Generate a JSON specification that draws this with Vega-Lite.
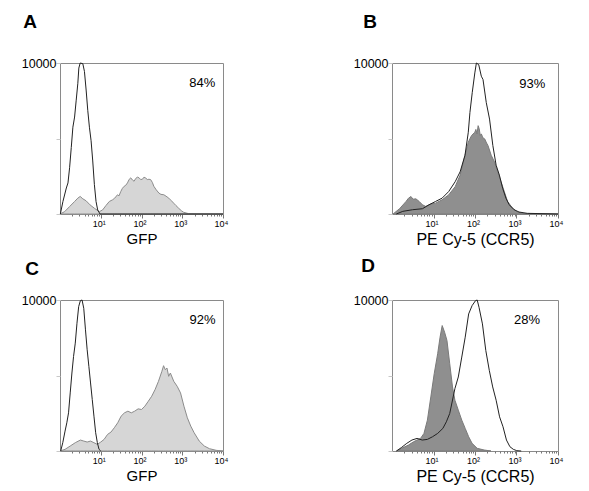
{
  "$schema": "https://vega.github.io/schema/vega-lite/v6.json",
  "padding": {"left": 20, "top": 12, "right": 5, "bottom": 5},
  "background": "white",
  "datasets": {
    "hist": [
      {"panel":"A","series":"filled","intensity":1,"count":0},
      {"panel":"A","series":"filled","intensity":1.3,"count":157},
      {"panel":"A","series":"filled","intensity":1.72,"count":492},
      {"panel":"A","series":"filled","intensity":2.28,"count":828},
      {"panel":"A","series":"filled","intensity":2.74,"count":1051},
      {"panel":"A","series":"filled","intensity":3.13,"count":1163},
      {"panel":"A","series":"filled","intensity":3.63,"count":1007},
      {"panel":"A","series":"filled","intensity":4.38,"count":872},
      {"panel":"A","series":"filled","intensity":5.47,"count":604},
      {"panel":"A","series":"filled","intensity":6.98,"count":380},
      {"panel":"A","series":"filled","intensity":9.23,"count":157},
      {"panel":"A","series":"filled","intensity":11.1,"count":268},
      {"panel":"A","series":"filled","intensity":13.4,"count":559},
      {"panel":"A","series":"filled","intensity":16.2,"count":828},
      {"panel":"A","series":"filled","intensity":19.5,"count":940},
      {"panel":"A","series":"filled","intensity":22,"count":1050},
      {"panel":"A","series":"filled","intensity":25.8,"count":1275},
      {"panel":"A","series":"filled","intensity":28,"count":1200},
      {"panel":"A","series":"filled","intensity":31.1,"count":1499},
      {"panel":"A","series":"filled","intensity":34,"count":1700},
      {"panel":"A","series":"filled","intensity":37.5,"count":1834},
      {"panel":"A","series":"filled","intensity":41,"count":1900},
      {"panel":"A","series":"filled","intensity":45.2,"count":2058},
      {"panel":"A","series":"filled","intensity":50,"count":2300},
      {"panel":"A","series":"filled","intensity":54.5,"count":2394},
      {"panel":"A","series":"filled","intensity":60,"count":2250},
      {"panel":"A","series":"filled","intensity":65.7,"count":2170},
      {"panel":"A","series":"filled","intensity":72,"count":2350},
      {"panel":"A","series":"filled","intensity":79.2,"count":2438},
      {"panel":"A","series":"filled","intensity":87,"count":2400},
      {"panel":"A","series":"filled","intensity":95.4,"count":2282},
      {"panel":"A","series":"filled","intensity":105,"count":2300},
      {"panel":"A","series":"filled","intensity":115,"count":2438},
      {"panel":"A","series":"filled","intensity":127,"count":2380},
      {"panel":"A","series":"filled","intensity":139,"count":2282},
      {"panel":"A","series":"filled","intensity":152,"count":2300},
      {"panel":"A","series":"filled","intensity":167,"count":2282},
      {"panel":"A","series":"filled","intensity":184,"count":2100},
      {"panel":"A","series":"filled","intensity":201,"count":1834},
      {"panel":"A","series":"filled","intensity":230,"count":1600},
      {"panel":"A","series":"filled","intensity":267,"count":1387},
      {"panel":"A","series":"filled","intensity":300,"count":1300},
      {"panel":"A","series":"filled","intensity":353,"count":1275},
      {"panel":"A","series":"filled","intensity":400,"count":1180},
      {"panel":"A","series":"filled","intensity":467,"count":1051},
      {"panel":"A","series":"filled","intensity":540,"count":880},
      {"panel":"A","series":"filled","intensity":618,"count":716},
      {"panel":"A","series":"filled","intensity":700,"count":560},
      {"panel":"A","series":"filled","intensity":818,"count":380},
      {"panel":"A","series":"filled","intensity":950,"count":220},
      {"panel":"A","series":"filled","intensity":1083,"count":112},
      {"panel":"A","series":"filled","intensity":1433,"count":22},
      {"panel":"A","series":"filled","intensity":10000,"count":0},

      {"panel":"A","series":"open","intensity":1.02,"count":0},
      {"panel":"A","series":"open","intensity":1.18,"count":828},
      {"panel":"A","series":"open","intensity":1.43,"count":1722},
      {"panel":"A","series":"open","intensity":1.57,"count":2058},
      {"panel":"A","series":"open","intensity":1.72,"count":3065},
      {"panel":"A","series":"open","intensity":1.89,"count":4407},
      {"panel":"A","series":"open","intensity":2.07,"count":5749},
      {"panel":"A","series":"open","intensity":2.28,"count":6420},
      {"panel":"A","series":"open","intensity":2.5,"count":7539},
      {"panel":"A","series":"open","intensity":2.74,"count":8657},
      {"panel":"A","series":"open","intensity":2.9,"count":9664},
      {"panel":"A","series":"open","intensity":3.13,"count":10000},
      {"panel":"A","series":"open","intensity":3.63,"count":9955},
      {"panel":"A","series":"open","intensity":3.98,"count":9440},
      {"panel":"A","series":"open","intensity":4.38,"count":8210},
      {"panel":"A","series":"open","intensity":4.8,"count":6868},
      {"panel":"A","series":"open","intensity":5.27,"count":5749},
      {"panel":"A","series":"open","intensity":5.79,"count":4854},
      {"panel":"A","series":"open","intensity":6.36,"count":3512},
      {"panel":"A","series":"open","intensity":6.98,"count":1946},
      {"panel":"A","series":"open","intensity":7.66,"count":828},
      {"panel":"A","series":"open","intensity":8.41,"count":268},
      {"panel":"A","series":"open","intensity":9.6,"count":0},
      {"panel":"A","series":"open","intensity":10000,"count":0},

      {"panel":"B","series":"filled","intensity":1.06,"count":0},
      {"panel":"B","series":"filled","intensity":1.52,"count":349},
      {"panel":"B","series":"filled","intensity":2.18,"count":830},
      {"panel":"B","series":"filled","intensity":2.5,"count":1050},
      {"panel":"B","series":"filled","intensity":2.87,"count":1157},
      {"panel":"B","series":"filled","intensity":3.2,"count":980},
      {"panel":"B","series":"filled","intensity":3.77,"count":1004},
      {"panel":"B","series":"filled","intensity":4.52,"count":830},
      {"panel":"B","series":"filled","intensity":5.42,"count":611},
      {"panel":"B","series":"filled","intensity":6.5,"count":502},
      {"panel":"B","series":"filled","intensity":8.53,"count":655},
      {"panel":"B","series":"filled","intensity":11.2,"count":720},
      {"panel":"B","series":"filled","intensity":16.1,"count":939},
      {"panel":"B","series":"filled","intensity":23.2,"count":1266},
      {"panel":"B","series":"filled","intensity":33.3,"count":1812},
      {"panel":"B","series":"filled","intensity":43.8,"count":2576},
      {"panel":"B","series":"filled","intensity":57.4,"count":3886},
      {"panel":"B","series":"filled","intensity":68.9,"count":4759},
      {"panel":"B","series":"filled","intensity":82.6,"count":5196},
      {"panel":"B","series":"filled","intensity":99,"count":5414},
      {"panel":"B","series":"filled","intensity":105,"count":5600},
      {"panel":"B","series":"filled","intensity":112,"count":5300},
      {"panel":"B","series":"filled","intensity":119,"count":5850},
      {"panel":"B","series":"filled","intensity":126,"count":5650},
      {"panel":"B","series":"filled","intensity":134,"count":5200},
      {"panel":"B","series":"filled","intensity":142,"count":5305},
      {"panel":"B","series":"filled","intensity":150,"count":5150},
      {"panel":"B","series":"filled","intensity":160,"count":5000},
      {"panel":"B","series":"filled","intensity":171,"count":4977},
      {"panel":"B","series":"filled","intensity":190,"count":4700},
      {"panel":"B","series":"filled","intensity":205,"count":4541},
      {"panel":"B","series":"filled","intensity":246,"count":3886},
      {"panel":"B","series":"filled","intensity":295,"count":3449},
      {"panel":"B","series":"filled","intensity":353,"count":2794},
      {"panel":"B","series":"filled","intensity":424,"count":2139},
      {"panel":"B","series":"filled","intensity":508,"count":1484},
      {"panel":"B","series":"filled","intensity":609,"count":830},
      {"panel":"B","series":"filled","intensity":797,"count":393},
      {"panel":"B","series":"filled","intensity":1050,"count":131},
      {"panel":"B","series":"filled","intensity":1510,"count":22},
      {"panel":"B","series":"filled","intensity":10000,"count":0},

      {"panel":"B","series":"open","intensity":1.27,"count":0},
      {"panel":"B","series":"open","intensity":1.82,"count":175},
      {"panel":"B","series":"open","intensity":3.14,"count":284},
      {"panel":"B","series":"open","intensity":5.42,"count":349},
      {"panel":"B","series":"open","intensity":7.8,"count":611},
      {"panel":"B","series":"open","intensity":11.2,"count":830},
      {"panel":"B","series":"open","intensity":16.1,"count":1048},
      {"panel":"B","series":"open","intensity":23.2,"count":1484},
      {"panel":"B","series":"open","intensity":33.3,"count":2139},
      {"panel":"B","series":"open","intensity":43.8,"count":2794},
      {"panel":"B","series":"open","intensity":57.4,"count":3886},
      {"panel":"B","series":"open","intensity":68.9,"count":5414},
      {"panel":"B","series":"open","intensity":75.5,"count":6724},
      {"panel":"B","series":"open","intensity":85.7,"count":8033},
      {"panel":"B","series":"open","intensity":99,"count":9343},
      {"panel":"B","series":"open","intensity":108,"count":10000},
      {"panel":"B","series":"open","intensity":123,"count":9889},
      {"panel":"B","series":"open","intensity":142,"count":9125},
      {"panel":"B","series":"open","intensity":156,"count":8907},
      {"panel":"B","series":"open","intensity":187,"count":7379},
      {"panel":"B","series":"open","intensity":224,"count":6287},
      {"panel":"B","series":"open","intensity":269,"count":4541},
      {"panel":"B","series":"open","intensity":323,"count":3231},
      {"panel":"B","series":"open","intensity":387,"count":2576},
      {"panel":"B","series":"open","intensity":464,"count":1703},
      {"panel":"B","series":"open","intensity":557,"count":1048},
      {"panel":"B","series":"open","intensity":667,"count":611},
      {"panel":"B","series":"open","intensity":877,"count":284},
      {"panel":"B","series":"open","intensity":1150,"count":131},
      {"panel":"B","series":"open","intensity":1820,"count":44},
      {"panel":"B","series":"open","intensity":10000,"count":0},

      {"panel":"C","series":"filled","intensity":1,"count":0},
      {"panel":"C","series":"filled","intensity":1.33,"count":110},
      {"panel":"C","series":"filled","intensity":1.78,"count":330},
      {"panel":"C","series":"filled","intensity":2.37,"count":550},
      {"panel":"C","series":"filled","intensity":3.16,"count":725},
      {"panel":"C","series":"filled","intensity":3.83,"count":659},
      {"panel":"C","series":"filled","intensity":4.64,"count":593},
      {"panel":"C","series":"filled","intensity":5.62,"count":659},
      {"panel":"C","series":"filled","intensity":6.81,"count":550},
      {"panel":"C","series":"filled","intensity":8.25,"count":440},
      {"panel":"C","series":"filled","intensity":10,"count":593},
      {"panel":"C","series":"filled","intensity":12.1,"count":769},
      {"panel":"C","series":"filled","intensity":14.7,"count":1099},
      {"panel":"C","series":"filled","intensity":17.8,"count":1253},
      {"panel":"C","series":"filled","intensity":21.5,"count":1539},
      {"panel":"C","series":"filled","intensity":26.1,"count":1868},
      {"panel":"C","series":"filled","intensity":31.6,"count":2308},
      {"panel":"C","series":"filled","intensity":38.3,"count":2528},
      {"panel":"C","series":"filled","intensity":46.4,"count":2638},
      {"panel":"C","series":"filled","intensity":56.2,"count":2528},
      {"panel":"C","series":"filled","intensity":68.1,"count":2638},
      {"panel":"C","series":"filled","intensity":82.5,"count":2791},
      {"panel":"C","series":"filled","intensity":100,"count":2748},
      {"panel":"C","series":"filled","intensity":121,"count":2967},
      {"panel":"C","series":"filled","intensity":147,"count":3297},
      {"panel":"C","series":"filled","intensity":178,"count":3627},
      {"panel":"C","series":"filled","intensity":215,"count":4066},
      {"panel":"C","series":"filled","intensity":261,"count":4616},
      {"panel":"C","series":"filled","intensity":316,"count":5275},
      {"panel":"C","series":"filled","intensity":348,"count":5649},
      {"panel":"C","series":"filled","intensity":383,"count":5385},
      {"panel":"C","series":"filled","intensity":422,"count":5495},
      {"panel":"C","series":"filled","intensity":464,"count":4946},
      {"panel":"C","series":"filled","intensity":511,"count":5165},
      {"panel":"C","series":"filled","intensity":619,"count":4616},
      {"panel":"C","series":"filled","intensity":750,"count":4286},
      {"panel":"C","series":"filled","intensity":908,"count":3847},
      {"panel":"C","series":"filled","intensity":1101,"count":2967},
      {"panel":"C","series":"filled","intensity":1334,"count":2198},
      {"panel":"C","series":"filled","intensity":1616,"count":1649},
      {"panel":"C","series":"filled","intensity":1957,"count":1209},
      {"panel":"C","series":"filled","intensity":2610,"count":659},
      {"panel":"C","series":"filled","intensity":3481,"count":330},
      {"panel":"C","series":"filled","intensity":4642,"count":154},
      {"panel":"C","series":"filled","intensity":6813,"count":44},
      {"panel":"C","series":"filled","intensity":10000,"count":0},

      {"panel":"C","series":"open","intensity":1.04,"count":0},
      {"panel":"C","series":"open","intensity":1.17,"count":550},
      {"panel":"C","series":"open","intensity":1.33,"count":1319},
      {"panel":"C","series":"open","intensity":1.47,"count":1868},
      {"panel":"C","series":"open","intensity":1.62,"count":2528},
      {"panel":"C","series":"open","intensity":1.78,"count":3847},
      {"panel":"C","series":"open","intensity":1.96,"count":5165},
      {"panel":"C","series":"open","intensity":2.15,"count":6264},
      {"panel":"C","series":"open","intensity":2.37,"count":7144},
      {"panel":"C","series":"open","intensity":2.61,"count":8462},
      {"panel":"C","series":"open","intensity":2.87,"count":9561},
      {"panel":"C","series":"open","intensity":3.16,"count":9956},
      {"panel":"C","series":"open","intensity":3.48,"count":10000},
      {"panel":"C","series":"open","intensity":3.83,"count":9451},
      {"panel":"C","series":"open","intensity":4.22,"count":8023},
      {"panel":"C","series":"open","intensity":4.64,"count":6704},
      {"panel":"C","series":"open","intensity":5.11,"count":5605},
      {"panel":"C","series":"open","intensity":5.62,"count":4506},
      {"panel":"C","series":"open","intensity":6.19,"count":3407},
      {"panel":"C","series":"open","intensity":6.81,"count":2308},
      {"panel":"C","series":"open","intensity":7.5,"count":1209},
      {"panel":"C","series":"open","intensity":8.25,"count":550},
      {"panel":"C","series":"open","intensity":9.08,"count":110},
      {"panel":"C","series":"open","intensity":10,"count":0},

      {"panel":"D","series":"filled","intensity":1.28,"count":0},
      {"panel":"D","series":"filled","intensity":1.71,"count":176},
      {"panel":"D","series":"filled","intensity":2.5,"count":396},
      {"panel":"D","series":"filled","intensity":3.32,"count":615},
      {"panel":"D","series":"filled","intensity":4.02,"count":725},
      {"panel":"D","series":"filled","intensity":4.87,"count":835},
      {"panel":"D","series":"filled","intensity":5.89,"count":1165},
      {"panel":"D","series":"filled","intensity":7.13,"count":2044},
      {"panel":"D","series":"filled","intensity":8.62,"count":3583},
      {"panel":"D","series":"filled","intensity":10.4,"count":5121},
      {"panel":"D","series":"filled","intensity":12.6,"count":6440},
      {"panel":"D","series":"filled","intensity":14.4,"count":7539},
      {"panel":"D","series":"filled","intensity":16.2,"count":8308},
      {"panel":"D","series":"filled","intensity":18.5,"count":7869},
      {"panel":"D","series":"filled","intensity":21.1,"count":7319},
      {"panel":"D","series":"filled","intensity":24.6,"count":5781},
      {"panel":"D","series":"filled","intensity":28.7,"count":4242},
      {"panel":"D","series":"filled","intensity":32.8,"count":3363},
      {"panel":"D","series":"filled","intensity":39.6,"count":2704},
      {"panel":"D","series":"filled","intensity":48,"count":2044},
      {"panel":"D","series":"filled","intensity":58.1,"count":1495},
      {"panel":"D","series":"filled","intensity":70.3,"count":945},
      {"panel":"D","series":"filled","intensity":85.1,"count":506},
      {"panel":"D","series":"filled","intensity":113,"count":176},
      {"panel":"D","series":"filled","intensity":166,"count":66},
      {"panel":"D","series":"filled","intensity":243,"count":0},

      {"panel":"D","series":"open","intensity":1.28,"count":0},
      {"panel":"D","series":"open","intensity":1.71,"count":242},
      {"panel":"D","series":"open","intensity":2.27,"count":506},
      {"panel":"D","series":"open","intensity":3.02,"count":725},
      {"panel":"D","series":"open","intensity":4.02,"count":835},
      {"panel":"D","series":"open","intensity":5.36,"count":725},
      {"panel":"D","series":"open","intensity":7.13,"count":769},
      {"panel":"D","series":"open","intensity":9.49,"count":945},
      {"panel":"D","series":"open","intensity":12.6,"count":1165},
      {"panel":"D","series":"open","intensity":16.8,"count":1495},
      {"panel":"D","series":"open","intensity":20.4,"count":1934},
      {"panel":"D","series":"open","intensity":24.6,"count":2484},
      {"panel":"D","series":"open","intensity":29.8,"count":3583},
      {"panel":"D","series":"open","intensity":32.8,"count":4132},
      {"panel":"D","series":"open","intensity":39.6,"count":4902},
      {"panel":"D","series":"open","intensity":48,"count":6220},
      {"panel":"D","series":"open","intensity":58.1,"count":7539},
      {"panel":"D","series":"open","intensity":70.3,"count":9078},
      {"panel":"D","series":"open","intensity":85.1,"count":9627},
      {"panel":"D","series":"open","intensity":103,"count":9957},
      {"panel":"D","series":"open","intensity":113,"count":10000},
      {"panel":"D","series":"open","intensity":125,"count":9517},
      {"panel":"D","series":"open","intensity":151,"count":8418},
      {"panel":"D","series":"open","intensity":182,"count":6660},
      {"panel":"D","series":"open","intensity":221,"count":5341},
      {"panel":"D","series":"open","intensity":267,"count":4242},
      {"panel":"D","series":"open","intensity":323,"count":3363},
      {"panel":"D","series":"open","intensity":391,"count":2264},
      {"panel":"D","series":"open","intensity":473,"count":1605},
      {"panel":"D","series":"open","intensity":573,"count":725},
      {"panel":"D","series":"open","intensity":693,"count":286},
      {"panel":"D","series":"open","intensity":838,"count":110},
      {"panel":"D","series":"open","intensity":1014,"count":22},
      {"panel":"D","series":"open","intensity":1300,"count":0}
    ],
    "labels": [
      {"panel":"A","label":"84%","intensity":3090,"count":8660},
      {"panel":"B","label":"93%","intensity":2400,"count":8620},
      {"panel":"C","label":"92%","intensity":3160,"count":8680},
      {"panel":"D","label":"28%","intensity":1790,"count":8680}
    ]
  },
  "config": {
    "font": "Liberation Sans",
    "view": {"stroke": "#8a8a8a", "strokeWidth": 1},
    "axis": {"grid": false, "domain": false, "labelFont": "Liberation Sans", "titleFont": "Liberation Sans", "labelColor": "#000", "titleColor": "#000", "titleFontWeight": "normal"},
    "title": {"font": "Liberation Sans", "fontSize": 19, "fontWeight": "bold", "anchor": "start", "color": "#000"}
  },
  "columns": 2,
  "bounds": "flush",
  "spacing": {"row": 86, "column": 169},
  "concat": [
    {
      "title": {"text": "A", "dx": 2, "offset": 25},
      "width": 163, "height": 151,
      "layer": [
        {"data": {"name": "hist"}, "transform": [{"filter": "datum.panel == 'A' && datum.series == 'filled'"}],
         "mark": {"type": "area", "fill": "#d6d6d6", "stroke": "#8c8c8c", "strokeWidth": 1},
         "encoding": {
           "x": {"field": "intensity", "type": "quantitative", "scale": {"type": "log", "domain": [1, 10000], "nice": false},
                 "axis": {"title": "GFP", "titleFontSize": 15, "titlePadding": 3, "values": [2,3,4,5,6,7,8,9,10,20,30,40,50,60,70,80,90,100,200,300,400,500,600,700,800,900,1000,2000,3000,4000,5000,6000,7000,8000,9000,10000],
                          "labelExpr": "datum.value == 10 ? '10¹' : datum.value == 100 ? '10²' : datum.value == 1000 ? '10³' : datum.value == 10000 ? '10⁴' : ''",
                          "labelFontSize": 9, "labelOffset": -2, "labelPadding": 1, "labelOverlap": false, "labelFlush": false, "tickColor": "#777",
                          "tickSize": {"condition": {"test": "datum.value == 10 || datum.value == 100 || datum.value == 1000 || datum.value == 10000", "value": 4}, "value": 2}}},
           "y": {"field": "count", "type": "quantitative", "scale": {"domain": [0, 10000], "nice": false},
                 "axis": {"title": null, "values": [0,1250,2500,3750,5000,6250,7500,8750,10000], "labelExpr": "datum.value == 10000 ? '10000' : ''", "labelFontSize": 12.5, "labelPadding": 0, "tickSize": 4, "tickColor": "#c8c8c8"}}
         }},
        {"data": {"name": "hist"}, "transform": [{"filter": "datum.panel == 'A' && datum.series == 'open'"}],
         "mark": {"type": "line", "color": "#222", "strokeWidth": 1},
         "encoding": {"x": {"field": "intensity", "type": "quantitative"}, "y": {"field": "count", "type": "quantitative"}}},
        {"data": {"name": "labels"}, "transform": [{"filter": "datum.panel == 'A'"}],
         "mark": {"type": "text", "fontSize": 13, "color": "#000"},
         "encoding": {"x": {"field": "intensity", "type": "quantitative"}, "y": {"field": "count", "type": "quantitative"}, "text": {"field": "label"}}}
      ]
    },
    {
      "title": {"text": "B", "dx": 10, "offset": 25},
      "width": 166, "height": 151,
      "layer": [
        {"data": {"name": "hist"}, "transform": [{"filter": "datum.panel == 'B' && datum.series == 'filled'"}],
         "mark": {"type": "area", "fill": "#8f8f8f", "stroke": "#7a7a7a", "strokeWidth": 1},
         "encoding": {
           "x": {"field": "intensity", "type": "quantitative", "scale": {"type": "log", "domain": [1, 10000], "nice": false},
                 "axis": {"title": "PE Cy-5 (CCR5)", "titleFontSize": 16, "titlePadding": 3, "values": [2,3,4,5,6,7,8,9,10,20,30,40,50,60,70,80,90,100,200,300,400,500,600,700,800,900,1000,2000,3000,4000,5000,6000,7000,8000,9000,10000],
                          "labelExpr": "datum.value == 10 ? '10¹' : datum.value == 100 ? '10²' : datum.value == 1000 ? '10³' : datum.value == 10000 ? '10⁴' : ''",
                          "labelFontSize": 9, "labelOffset": -2, "labelPadding": 1, "labelOverlap": false, "labelFlush": false, "tickColor": "#777",
                          "tickSize": {"condition": {"test": "datum.value == 10 || datum.value == 100 || datum.value == 1000 || datum.value == 10000", "value": 4}, "value": 2}}},
           "y": {"field": "count", "type": "quantitative", "scale": {"domain": [0, 10000], "nice": false},
                 "axis": {"title": null, "values": [0,1250,2500,3750,5000,6250,7500,8750,10000], "labelExpr": "datum.value == 10000 ? '10000' : ''", "labelFontSize": 12.5, "labelPadding": 0, "tickSize": 4, "tickColor": "#c8c8c8"}}
         }},
        {"data": {"name": "hist"}, "transform": [{"filter": "datum.panel == 'B' && datum.series == 'open'"}],
         "mark": {"type": "line", "color": "#222", "strokeWidth": 1},
         "encoding": {"x": {"field": "intensity", "type": "quantitative"}, "y": {"field": "count", "type": "quantitative"}}},
        {"data": {"name": "labels"}, "transform": [{"filter": "datum.panel == 'B'"}],
         "mark": {"type": "text", "fontSize": 13, "color": "#000"},
         "encoding": {"x": {"field": "intensity", "type": "quantitative"}, "y": {"field": "count", "type": "quantitative"}, "text": {"field": "label"}}}
      ]
    },
    {
      "title": {"text": "C", "dx": 4, "offset": 15},
      "width": 163, "height": 151,
      "layer": [
        {"data": {"name": "hist"}, "transform": [{"filter": "datum.panel == 'C' && datum.series == 'filled'"}],
         "mark": {"type": "area", "fill": "#d6d6d6", "stroke": "#8c8c8c", "strokeWidth": 1},
         "encoding": {
           "x": {"field": "intensity", "type": "quantitative", "scale": {"type": "log", "domain": [1, 10000], "nice": false},
                 "axis": {"title": "GFP", "titleFontSize": 15, "titlePadding": 3, "values": [2,3,4,5,6,7,8,9,10,20,30,40,50,60,70,80,90,100,200,300,400,500,600,700,800,900,1000,2000,3000,4000,5000,6000,7000,8000,9000,10000],
                          "labelExpr": "datum.value == 10 ? '10¹' : datum.value == 100 ? '10²' : datum.value == 1000 ? '10³' : datum.value == 10000 ? '10⁴' : ''",
                          "labelFontSize": 9, "labelOffset": -2, "labelPadding": 1, "labelOverlap": false, "labelFlush": false, "tickColor": "#777",
                          "tickSize": {"condition": {"test": "datum.value == 10 || datum.value == 100 || datum.value == 1000 || datum.value == 10000", "value": 4}, "value": 2}}},
           "y": {"field": "count", "type": "quantitative", "scale": {"domain": [0, 10000], "nice": false},
                 "axis": {"title": null, "values": [0,1250,2500,3750,5000,6250,7500,8750,10000], "labelExpr": "datum.value == 10000 ? '10000' : ''", "labelFontSize": 12.5, "labelPadding": 0, "tickSize": 4, "tickColor": "#c8c8c8"}}
         }},
        {"data": {"name": "hist"}, "transform": [{"filter": "datum.panel == 'C' && datum.series == 'open'"}],
         "mark": {"type": "line", "color": "#222", "strokeWidth": 1},
         "encoding": {"x": {"field": "intensity", "type": "quantitative"}, "y": {"field": "count", "type": "quantitative"}}},
        {"data": {"name": "labels"}, "transform": [{"filter": "datum.panel == 'C'"}],
         "mark": {"type": "text", "fontSize": 13, "color": "#000"},
         "encoding": {"x": {"field": "intensity", "type": "quantitative"}, "y": {"field": "count", "type": "quantitative"}, "text": {"field": "label"}}}
      ]
    },
    {
      "title": {"text": "D", "dx": 8, "offset": 18},
      "width": 166, "height": 151,
      "layer": [
        {"data": {"name": "hist"}, "transform": [{"filter": "datum.panel == 'D' && datum.series == 'filled'"}],
         "mark": {"type": "area", "fill": "#8f8f8f", "stroke": "#7a7a7a", "strokeWidth": 1},
         "encoding": {
           "x": {"field": "intensity", "type": "quantitative", "scale": {"type": "log", "domain": [1, 10000], "nice": false},
                 "axis": {"title": "PE Cy-5 (CCR5)", "titleFontSize": 16, "titlePadding": 3, "values": [2,3,4,5,6,7,8,9,10,20,30,40,50,60,70,80,90,100,200,300,400,500,600,700,800,900,1000,2000,3000,4000,5000,6000,7000,8000,9000,10000],
                          "labelExpr": "datum.value == 10 ? '10¹' : datum.value == 100 ? '10²' : datum.value == 1000 ? '10³' : datum.value == 10000 ? '10⁴' : ''",
                          "labelFontSize": 9, "labelOffset": -2, "labelPadding": 1, "labelOverlap": false, "labelFlush": false, "tickColor": "#777",
                          "tickSize": {"condition": {"test": "datum.value == 10 || datum.value == 100 || datum.value == 1000 || datum.value == 10000", "value": 4}, "value": 2}}},
           "y": {"field": "count", "type": "quantitative", "scale": {"domain": [0, 10000], "nice": false},
                 "axis": {"title": null, "values": [0,1250,2500,3750,5000,6250,7500,8750,10000], "labelExpr": "datum.value == 10000 ? '10000' : ''", "labelFontSize": 12.5, "labelPadding": 0, "tickSize": 4, "tickColor": "#c8c8c8"}}
         }},
        {"data": {"name": "hist"}, "transform": [{"filter": "datum.panel == 'D' && datum.series == 'open'"}],
         "mark": {"type": "line", "color": "#222", "strokeWidth": 1},
         "encoding": {"x": {"field": "intensity", "type": "quantitative"}, "y": {"field": "count", "type": "quantitative"}}},
        {"data": {"name": "labels"}, "transform": [{"filter": "datum.panel == 'D'"}],
         "mark": {"type": "text", "fontSize": 13, "color": "#000"},
         "encoding": {"x": {"field": "intensity", "type": "quantitative"}, "y": {"field": "count", "type": "quantitative"}, "text": {"field": "label"}}}
      ]
    }
  ]
}
